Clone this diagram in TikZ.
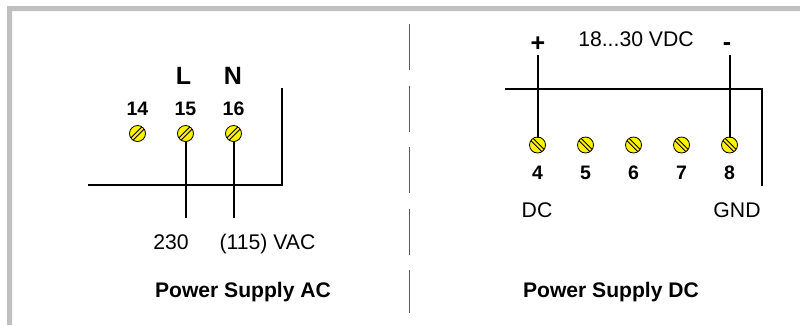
\documentclass[tikz,border=0pt]{standalone}
\usepackage{fontspec}
\setmainfont{Liberation Sans}
\usetikzlibrary{calc}
\usetikzlibrary{positioning}

\definecolor{framegray}{HTML}{C0C0C0}
\definecolor{screwyellow}{HTML}{FFF200}

\tikzset{
  wire/.style={line width=2pt, line cap=rect},
  divider/.style={line width=0.8pt, black!65, dash pattern=on 46pt off 15.5pt},
  screw/.style={circle, draw, fill=screwyellow, line width=0.8pt, minimum size=16pt, inner sep=0pt,
    path picture={\draw[line width=0.9pt, shift={(path picture bounding box.center)}]
      (-9,{#1*9-2.3}) -- (9,{-#1*9-2.3}) (-9,{#1*9+2.3}) -- (9,{-#1*9+2.3});}},
  termlabel/.style={font=\fontsize{19.5}{20}\selectfont\bfseries, inner sep=0pt, anchor=base},
  biglabel/.style={font=\fontsize{25}{26}\selectfont\bfseries, inner sep=0pt, anchor=base},
  textlabel/.style={font=\fontsize{21.2}{22}\selectfont, inner sep=0pt, anchor=base},
  titlelabel/.style={font=\fontsize{21.1}{22}\selectfont\bfseries, inner sep=0pt, anchor=base},
}

\begin{document}
\begin{tikzpicture}[x=1pt, y=-1pt]
  \useasboundingbox (0,0) rectangle (800,325);
  \fill[white] (0,0) rectangle (800,325);

  % frame
  \fill[framegray] (7,325) -- (7,6) -- (800,6) -- (800,11) -- (12,11) -- (12,325) -- cycle;

  % divider
  \coordinate (divtop) at (409.5,24);
  \coordinate (divbot) at (409.5,313);
  \draw[divider] (divtop) -- (divbot);

  % AC side
  \foreach \n/\x in {14/137.5, 15/185.5, 16/233.5} {
    \node[screw=1] (s\n) at (\x,133.5) {};
    \node[termlabel] (t\n) at (\x,115) {\n};
  }
  \node[biglabel] (labl) at (183.5,84) {L};
  \node[biglabel] (labn) at (233,84) {N};

  \coordinate (acleft) at (89,184.5);
  \coordinate (accorner) at (281.5,184.5);
  \coordinate (actop) at (281.5,88.5);
  \coordinate (acl) at (185.5,217);
  \coordinate (acn) at (233.5,217);
  \draw[wire] (acleft) -- (accorner) -- (actop);
  \draw[wire] (s15.south) -- (acl);
  \draw[wire] (s16.south) -- (acn);

  \node[textlabel] (v230) at (171,249) {230};
  \node[textlabel] (v115) at (267.5,249) {(115) VAC};
  \node[titlelabel] (acname) at (243,297) {Power Supply AC};

  % DC side
  \foreach \n/\x in {4/537.5, 5/585.5, 6/633.5, 7/681.5, 8/729.5} {
    \node[screw=-1] (s\n) at (\x,145) {};
    \node[termlabel] (t\n) at (\x,179.5) {\n};
  }
  \node[biglabel] (plus) at (538,51) {+};
  \node[biglabel] (minus) at (727,50) {-};
  \node[textlabel] (vdc) at (636,46) {18...30 VDC};

  \coordinate (dcleft) at (506,88.5);
  \coordinate (dccorner) at (762,88.5);
  \coordinate (dcbot) at (762,185);
  \coordinate (dcplus) at (537.5,56);
  \coordinate (dcminus) at (729.5,56);
  \draw[wire] (dcleft) -- (dccorner) -- (dcbot);
  \draw[wire] (s4.north) -- (dcplus);
  \draw[wire] (s8.north) -- (dcminus);

  \node[textlabel] (dc) at (537,217) {DC};
  \node[textlabel] (gnd) at (737,217) {GND};
  \node[titlelabel] (dcname) at (611,297) {Power Supply DC};
\end{tikzpicture}
\end{document}
